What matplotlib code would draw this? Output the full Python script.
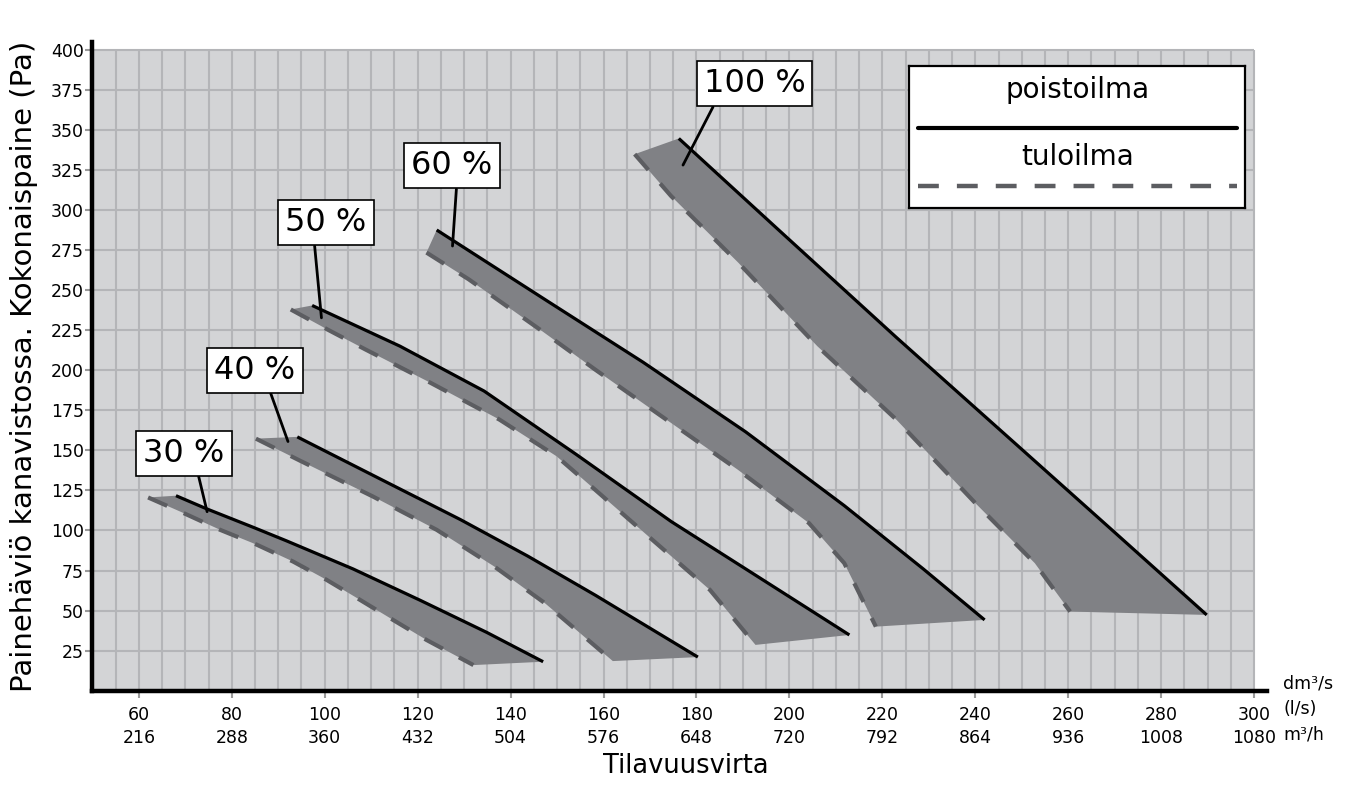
import numpy as np
import matplotlib
matplotlib.use("Agg")
import matplotlib.pyplot as plt
from matplotlib.patches import Rectangle
from matplotlib.lines import Line2D

plt.rcParams['font.family'] = ['DejaVu Sans']
plt.rcParams['lines.scale_dashes'] = False

# --- data (x in dm3/s, y in Pa) ---
bands = ['30 %', '40 %', '50 %', '60 %', '100 %']

poisto_x = [
    [68.0, 74.6, 84.6, 91.8, 106.1, 120.5, 134.8, 147.0],
    [94.1, 111.7, 129.2, 143.7, 158.3, 180.3],
    [97.3, 116.2, 134.3, 154.1, 174.6, 195.2, 212.9],
    [124.1, 148.0, 168.5, 190.6, 211.8, 228.8, 242.0],
    [176.2, 197.5, 223.0, 248.5, 269.8, 289.8],
]
poisto_y = [
    [121.7, 113.5, 102.0, 93.5, 76.0, 56.5, 36.5, 18.1],
    [158.4, 132.5, 106.8, 84.0, 59.5, 21.0],
    [240.4, 215.0, 187.0, 147.5, 105.5, 67.5, 34.8],
    [287.5, 243.0, 205.0, 161.5, 115.5, 76.0, 44.2],
    [344.6, 288.0, 220.5, 154.5, 99.3, 47.3],
]
tulo_x = [
    [62.0, 69.6, 77.5, 85.4, 93.2, 100.4, 107.6, 114.7, 121.9, 132.0],
    [85.2, 95.0, 110.3, 124.1, 136.5, 147.4, 162.0],
    [92.7, 100.6, 108.8, 122.8, 137.6, 149.9, 158.2, 170.5, 182.9, 192.7],
    [121.9, 131.0, 146.3, 158.2, 173.5, 188.9, 204.2, 211.8, 218.6],
    [166.7, 174.5, 189.0, 206.0, 223.0, 240.0, 252.8, 260.4],
]
tulo_y = [
    [120.6, 110.9, 100.4, 91.1, 80.6, 69.2, 56.7, 44.2, 31.7, 16.0],
    [157.3, 143.1, 121.3, 100.4, 77.5, 54.6, 18.5],
    [237.9, 225.4, 212.9, 192.1, 169.2, 146.3, 125.4, 94.2, 62.9, 28.6],
    [273.4, 256.7, 225.4, 200.4, 169.2, 137.9, 104.6, 79.6, 40.0],
    [334.8, 308.8, 267.1, 215.0, 169.2, 117.1, 79.6, 49.4],
]

xticks_ls = [60, 80, 100, 120, 140, 160, 180, 200, 220, 240, 260, 280, 300]
xticks_m3h = [216, 288, 360, 432, 504, 576, 648, 720, 792, 864, 936, 1008, 1080]
yticks = [25, 50, 75, 100, 125, 150, 175, 200, 225, 250, 275, 300, 325, 350, 375, 400]

# label box centres and leader ends (layout)
label_box = [(69.7, 148), (85.0, 200), (100.3, 292), (127.4, 327.5), (192.5, 378.7)]
label_tip = [(74.7, 111.7), (92.1, 155.5), (99.3, 232.7), (127.5, 277.5), (177.1, 328)]
label_rel = [0.66, 0.66, 0.35, 0.56, 0.13]

BG = '#d3d4d6'
GRID = '#b4b5b8'
FILL = '#808185'
DASH = '#5c5d61'

fig = plt.figure(figsize=(13.66, 8.11), dpi=100)
ax = fig.add_axes([0.0676, 0.1483, 0.9273 - 0.0676, 0.9486 - 0.1483])
ax.set_xlim(50, 302.7)
ax.set_ylim(0, 405)
ax.set_facecolor('white')

ax.add_patch(Rectangle((50, 0), 250, 400, facecolor=BG, edgecolor='none', zorder=0))
ax.vlines(np.arange(55, 301, 5), 0, 400, colors=GRID, lw=1.5, zorder=1)
ax.hlines(yticks, 50, 300, colors=GRID, lw=1.5, zorder=1)

for i in range(len(bands)):
    px, py = poisto_x[i], poisto_y[i]
    tx, ty = tulo_x[i], tulo_y[i]
    ax.fill(px + tx[::-1], py + ty[::-1], color=FILL, lw=0, zorder=2)
    ax.plot(tx, ty, color=DASH, lw=3, dashes=(15, 13), solid_capstyle='butt',
            dash_capstyle='butt', zorder=3)
    ax.plot(px, py, color='black', lw=2.3, solid_capstyle='butt', zorder=4)

for i, name in enumerate(bands):
    ax.annotate(name, xy=label_tip[i], xytext=label_box[i], ha='center', va='center',
                fontsize=23, zorder=6,
                bbox=dict(boxstyle='square,pad=0.22', fc='white', ec='black', lw=1.2),
                arrowprops=dict(arrowstyle='-', color='black', lw=2,
                                relpos=(label_rel[i], 0), shrinkA=0, shrinkB=0))

for side in ['top', 'right']:
    ax.spines[side].set_visible(False)
for side in ['left', 'bottom']:
    ax.spines[side].set_linewidth(3.2)
    ax.spines[side].set_color('black')
    ax.spines[side].set_zorder(5)

ax.set_xticks(xticks_ls)
ax.set_xticklabels([f'{a}\n{b}' for a, b in zip(xticks_ls, xticks_m3h)], linespacing=1.35)
ax.set_yticks(yticks)
ax.tick_params(axis='both', direction='out', length=5, width=1.5, color='#9a9a9a',
               labelsize=12.5)
ax.tick_params(axis='y', pad=1)
ax.tick_params(axis='x', pad=6)

ax.set_ylabel('Painehäviö kanavistossa. Kokonaispaine (Pa)', fontsize=21)
ax.yaxis.set_label_coords(-0.046, 0.5)
ax.set_xlabel('Tilavuusvirta', fontsize=18.5, va='center')
ax.xaxis.set_label_coords(0.5055, -0.116)

for txt, yy in [('dm³/s', 0.0114), ('(l/s)', -0.0287), ('m³/h', -0.0672)]:
    ax.text(1.0139, yy, txt, transform=ax.transAxes, ha='left', va='center', fontsize=12.5)

# legend box
lg = fig.add_axes([0.6657, 0.7439, 0.2458, 0.1751])
lg.set_xlim(0, 1)
lg.set_ylim(0, 1)
lg.set_xticks([])
lg.set_yticks([])
lg.set_facecolor('white')
for s in lg.spines.values():
    s.set_linewidth(1.6)
lg.text(0.5, 0.83, 'poistoilma', ha='center', va='center', fontsize=20)
lg.add_line(Line2D([0.026, 0.976], [0.56, 0.56], color='black', lw=3, solid_capstyle='round'))
lg.text(0.5, 0.36, 'tuloilma', ha='center', va='center', fontsize=20)
lg.add_line(Line2D([0.026, 0.976], [0.155, 0.155], color=DASH, lw=3.2, dashes=(15, 13)))

fig.savefig('out.png', dpi=100)
